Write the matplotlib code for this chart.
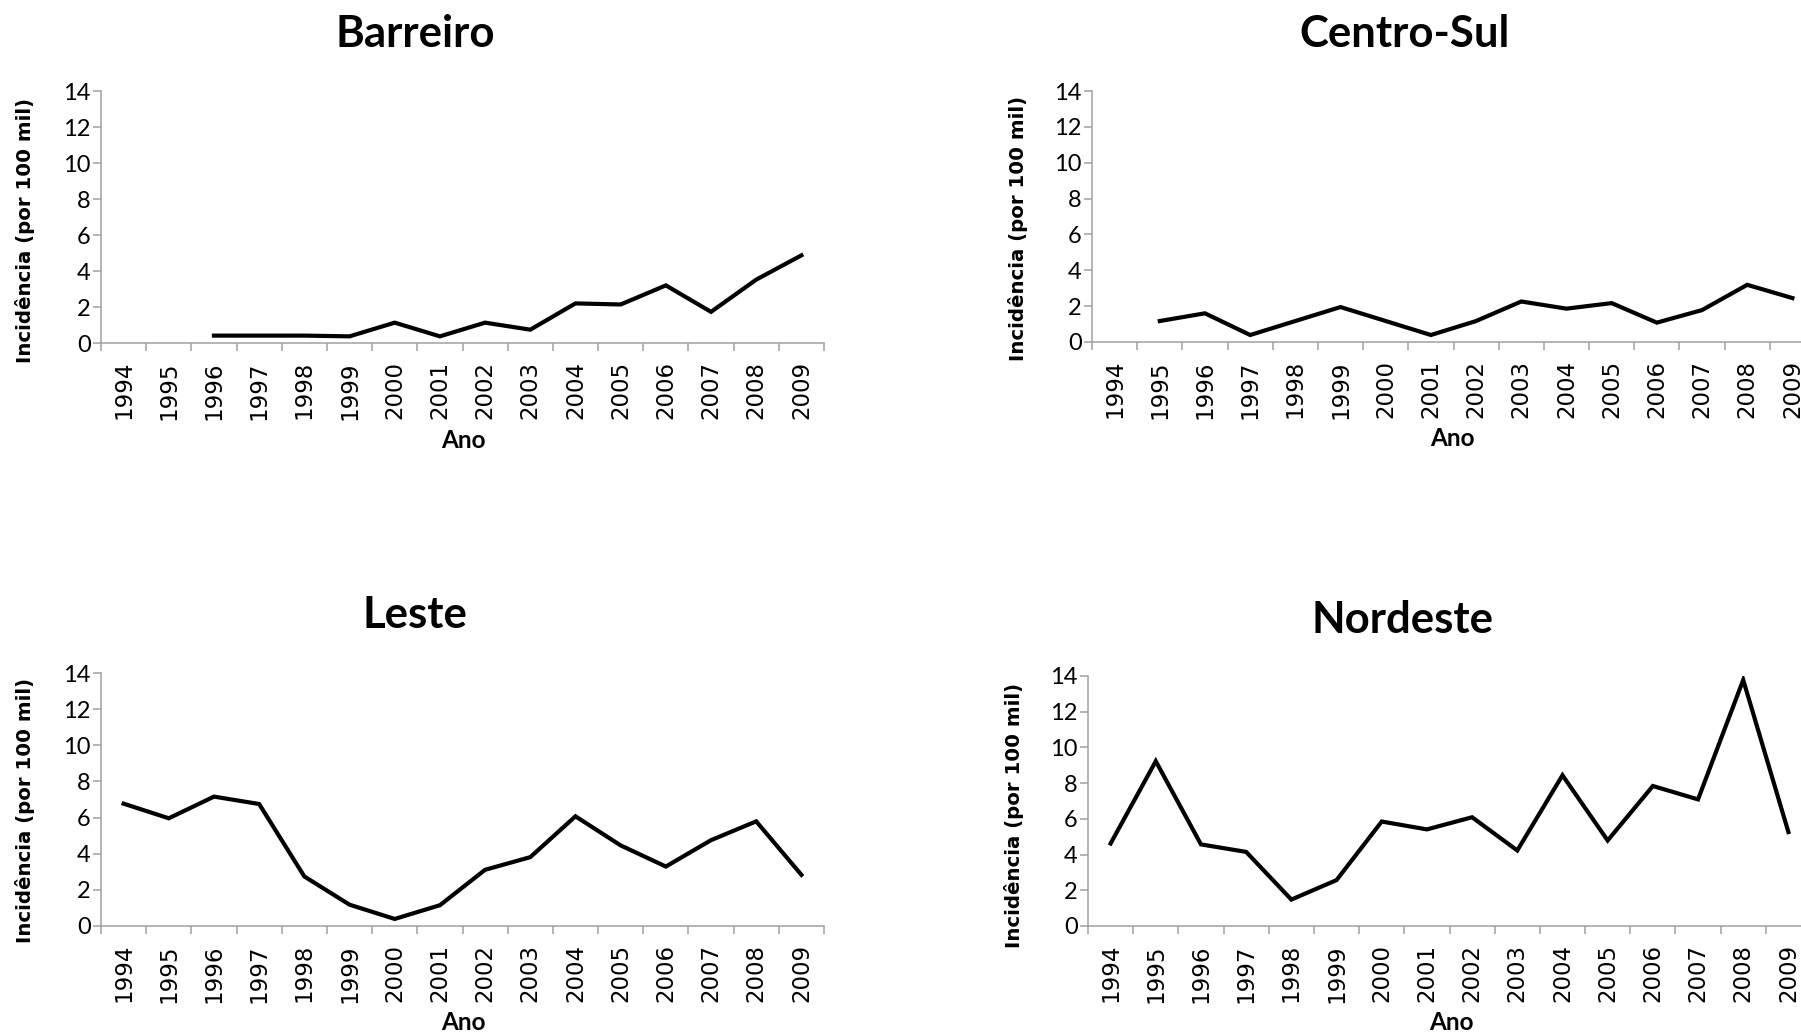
import numpy as np
import matplotlib
matplotlib.use("Agg")
import matplotlib.pyplot as plt

# annual incidence per 100 thousand inhabitants, by regional
anos = [str(a) for a in range(1994, 2010)]
nan = np.nan
barreiro = [nan, nan, 0.41, 0.41, 0.41, 0.37, 1.13, 0.37, 1.13, 0.74, 2.20, 2.14, 3.20, 1.73, 3.52, 4.87]
centro_sul = [nan, 1.17, 1.60, 0.39, 1.17, 1.95, 1.17, 0.39, 1.17, 2.26, 1.86, 2.17, 1.08, 1.78, 3.19, 2.45]
leste = [6.77, 5.96, 7.16, 6.75, 2.74, 1.18, 0.39, 1.15, 3.11, 3.81, 6.07, 4.46, 3.29, 4.75, 5.79, 2.83]
nordeste = [4.62, 9.23, 4.57, 4.15, 1.48, 2.57, 5.85, 5.41, 6.09, 4.23, 8.44, 4.79, 7.84, 7.09, 13.78, 5.26]

W, H = 1801, 1036
GREY = "#a0a0a0"
NARROW = "Lato"
WIDE = "DejaVu Sans"
YEARS_FONT = ["DejaVu Sans Condensed", "DejaVu Sans"]

fig = plt.figure(figsize=(W / 100, H / 100), dpi=100)

# (title, values, axis box px [left, top, right, bottom], title xy, ylabel xy, xlabel xy)
panels = [
    ("Barreiro", barreiro, (101, 91, 824, 343), (415, 34), (25, 230), (463, 441)),
    ("Centro-Sul", centro_sul, (1092, 91, 1815, 342), (1405, 34), (1018, 228), (1452, 439)),
    ("Leste", leste, (101, 673, 824, 926), (415, 615), (25, 810), (463, 1022)),
    ("Nordeste", nordeste, (1088, 676, 1811, 926), (1402, 620), (1014, 815), (1451, 1022)),
]

def fx(px):
    return px / W

def fy(py):
    return 1 - py / H

for title, vals, (l, t, r, b), tpos, ypos, xpos in panels:
    ax = fig.add_axes([fx(l), fy(b), (r - l) / W, (b - t) / H])
    x = np.arange(len(anos))
    ax.plot(x, vals, color="black", lw=3.0, solid_joinstyle="miter")
    ax.set_xlim(-0.5, len(anos) - 0.5)
    ax.set_ylim(0, 14)
    ax.set_yticks(range(0, 15, 2))
    ax.set_xticks(x, anos)
    ax.set_xticks(np.arange(-0.5, len(anos)), minor=True)
    # year labels sit between the category boundary ticks
    ax.tick_params(axis="x", which="major", length=0, pad=13, labelsize=16.5,
                   labelrotation=90)
    for lab in ax.get_xticklabels():
        lab.set_fontfamily(YEARS_FONT)
    ax.tick_params(axis="x", which="minor", length=6, width=1.1, color=GREY)
    ax.tick_params(axis="y", length=6, width=1.1, color=GREY, pad=1.5,
                   labelsize=17, labelfontfamily=NARROW)
    for side in ("top", "right"):
        ax.spines[side].set_visible(False)
    for side in ("left", "bottom"):
        ax.spines[side].set_color(GREY)
        ax.spines[side].set_linewidth(1.1)

    fig.text(fx(tpos[0]), fy(tpos[1]), title, ha="center", va="center",
             fontsize=31.5, fontweight="bold", family=NARROW)
    fig.text(fx(ypos[0]), fy(ypos[1]), "Incidência (por 100 mil)", rotation=90,
             ha="center", va="center", fontsize=14.2, fontweight="bold", family=WIDE)
    fig.text(fx(xpos[0]), fy(xpos[1]), "Ano", ha="center", va="center",
             fontsize=17.5, fontweight="bold", family=NARROW)

fig.savefig("out.png", dpi=100)
